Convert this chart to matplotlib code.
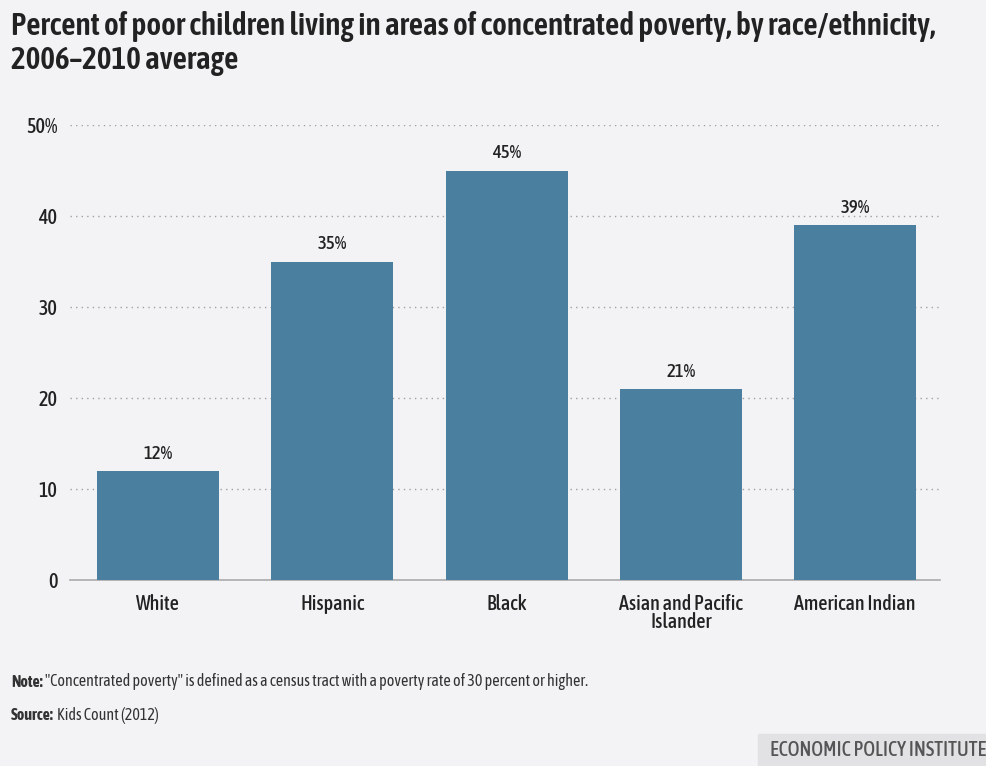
import matplotlib
matplotlib.use("Agg")
import matplotlib.pyplot as plt
from matplotlib import font_manager as fm
from matplotlib.patches import Rectangle

available = {f.name for f in fm.fontManager.ttflist}
narrow = "DejaVu Sans"
for cand in ["Asap Condensed", "Encode Sans Condensed", "Archivo Narrow", "Barlow Semi Condensed"]:
    if cand in available:
        narrow = cand
        break

categories = ["White", "Hispanic", "Black", "Asian and Pacific\nIslander", "American Indian"]
values = [12, 35, 45, 21, 39]
yticks = [0, 10, 20, 30, 40, 50]
ytick_labels = ["0", "10", "20", "30", "40", "50%"]

bg = "#f3f3f6"
fig = plt.figure(figsize=(9.86, 7.66), dpi=100, facecolor=bg)
ax = fig.add_axes([0.071, 0.2428, 0.882, 0.594], facecolor=bg)

x = list(range(len(categories)))
ax.bar(x, values, width=0.7, color="#4a7fa0", zorder=3)
for xi, v in zip(x, values):
    ax.text(xi, v + 0.9, f"{v}%", ha="center", va="bottom", fontsize=13.5,
            family=narrow, fontweight="medium", color="#222222", zorder=4)

ax.set_xlim(-0.505, 4.485)
ax.set_ylim(0, 50)
ax.set_yticks(yticks)
ax.set_yticklabels(ytick_labels, family=narrow, fontsize=14.5, fontweight="medium", color="#222222")
ax.set_xticks(x)
ax.set_xticklabels(categories, family=narrow, fontsize=14.5, fontweight="medium", color="#222222", linespacing=0.9)
ax.tick_params(axis="y", length=0, pad=9)
ax.tick_params(axis="x", length=0, pad=10)
for yt in yticks[1:]:
    ax.axhline(yt, color="#a0a0a0", linestyle=(0, (1, 3)), linewidth=1.0, zorder=1)
for s in ["top", "right", "left"]:
    ax.spines[s].set_visible(False)
ax.spines["bottom"].set_color("#aaaaaa")
ax.spines["bottom"].set_linewidth(1.2)

fig.text(0.011, 0.986, "Percent of poor children living in areas of concentrated poverty, by race/ethnicity,\n2006\u20132010 average",
         ha="left", va="top", fontsize=22.5, fontweight="semibold", family=narrow, color="#222222", linespacing=1.15)

fig.canvas.draw()
renderer = fig.canvas.get_renderer()


def labeled(y, label, rest):
    t = fig.text(0.011, y, label, fontsize=11.5, fontweight="bold", family=narrow, color="#333333", va="center")
    bb = t.get_window_extent(renderer=renderer)
    x1 = bb.x1 / fig.bbox.width
    fig.text(x1 + 0.003, y, rest, fontsize=11.5, family=narrow, color="#333333", va="center")


labeled(0.110, "Note:", "\"Concentrated poverty\" is defined as a census tract with a poverty rate of 30 percent or higher.")
labeled(0.066, "Source:", "Kids Count (2012)")

fig.add_artist(Rectangle((0.769, 0.0), 0.231, 0.042, transform=fig.transFigure, color="#e2e2e5", zorder=0))
fig.text(1.0, 0.021, "ECONOMIC POLICY INSTITUTE", ha="right", va="center", fontsize=14.5,
         family=narrow, fontweight="medium", color="#555555")

fig.savefig("out.png", dpi=100, facecolor=bg)
